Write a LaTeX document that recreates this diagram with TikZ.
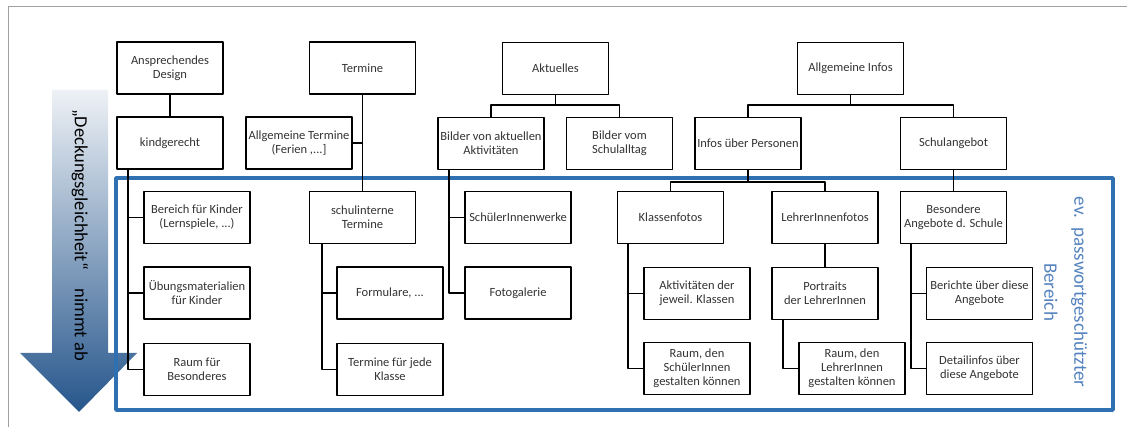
\documentclass[tikz,border=0pt]{standalone}
\usepackage{fontspec}
\setmainfont{Carlito}
\definecolor{frameblue}{RGB}{46,112,178}
\definecolor{labelblue}{RGB}{84,130,190}
\definecolor{arrowblue}{RGB}{38,86,140}
\definecolor{framegray}{RGB}{160,160,160}
\begin{document}
\begin{tikzpicture}[x=1pt,y=-1pt,line join=round,
	box/.style={draw,line width=1.5pt,minimum width=106pt,minimum height=52pt,inner sep=1pt,
		align=center,font=\fontsize{12.5}{14}\selectfont,text=black!80},
	link/.style={line width=1.5pt}]
	\useasboundingbox (0,0) rectangle (1127,427);
	\draw[framegray,line width=1pt] (8,427)--(8,7)--(1127,7);
	% arrow on the left
	\shade[top color=white!92!arrowblue,bottom color=arrowblue]
	(52,90)--(108,90)--(108,353)--(137,353)--(79,412)--(20,353)--(52,353)--cycle;
	\node[rotate=-90,font=\fontsize{18.5}{20}\selectfont] (trend) at (80,235) {„Deckungsgleichheit“\quad nimmt ab};
	% protected area
	\draw[frameblue,line width=3.5pt] (116,178) rectangle (1113,410);
	\node[rotate=-90,labelblue,align=center,font=\fontsize{19}{30}\selectfont] (zone) at (1066,292)
	{ev.\enspace passwortgeschützter\\Bereich};
	% top row
	\node[box] (design) at (170,68) {Ansprechendes\\Design};
	\node[box] (termine) at (362.5,68) {Termine};
	\node[box] (aktuelles) at (555.5,68.5) {Aktuelles};
	\node[box] (infos) at (850.5,68.5) {Allgemeine Infos};
	% second row
	\node[box] (kind) at (170,143) {kindgerecht};
	\node[box] (allgterm) at (299,143) {Allgemeine Termine\\(Ferien ,...]};
	\node[box] (bilderakt) at (491,143.5) {Bilder von aktuellen\\Aktivitäten};
	\node[box] (alltag) at (619.5,143.5) {Bilder vom\\Schulalltag};
	\node[box] (personen) at (748,143.5) {Infos über Personen};
	\node[box] (angebot) at (953.5,143.5) {Schulangebot};
	% third row
	\node[box] (bereich) at (197,217.5) {Bereich für Kinder\\(Lernspiele, ...)};
	\node[box] (schulint) at (362.5,217.5) {schulinterne\\Termine};
	\node[box] (werke) at (518,217.5) {SchülerInnenwerke};
	\node[box] (klassen) at (670.5,217.5) {Klassenfotos};
	\node[box] (lehrer) at (825,217.5) {LehrerInnenfotos};
	\node[box] (besondere) at (953.5,217.5) {Besondere\\Angebote d. Schule};
	% fourth row
	\node[box] (uebung) at (197,293) {Übungsmaterialien\\für Kinder};
	\node[box] (formulare) at (390,293) {Formulare, ...};
	\node[box] (galerie) at (518,293) {Fotogalerie};
	\node[box] (aktiv) at (697,293.5) {Aktivitäten der\\jeweil. Klassen};
	\node[box] (portraits) at (825,293.5) {Portraits\\der LehrerInnen};
	\node[box] (berichte) at (979.5,293.5) {Berichte über diese\\Angebote};
	% fifth row
	\node[box] (raum) at (197,369.5) {Raum für\\Besonderes};
	\node[box] (jede) at (390,369.5) {Termine für jede\\Klasse};
	\node[box] (raumsch) at (697,368.5) {Raum, den\\SchülerInnen\\gestalten können};
	\node[box] (raumleh) at (852,368.5) {Raum, den\\LehrerInnen\\gestalten können};
	\node[box] (detail) at (979.5,368.5) {Detailinfos über\\diese Angebote};
	% connectors
	\path ([xshift=-42pt]kind.south) coordinate (kt)
	([xshift=-40.5pt]schulint.south) coordinate (st)
	([xshift=-42pt]bilderakt.south) coordinate (bt)
	([xshift=-42.5pt]klassen.south) coordinate (klt)
	([xshift=-42pt]portraits.south) coordinate (pt)
	([xshift=-42.5pt]besondere.south) coordinate (bst);
	\draw[link] (design)--(kind) (termine)--(schulint) (allgterm)--(allgterm-|termine)
	(lehrer)--(portraits) (angebot)--(besondere);
	\draw[link] (aktuelles.south)--++(0,10)coordinate(af) (af)-|(bilderakt) (af)-|(alltag);
	\draw[link] (infos.south)--++(0,10)coordinate(inf) (inf)-|(personen) (inf)-|(angebot);
	\draw[link] (personen.south)--++(0,12)coordinate(pf) (pf)-|(klassen) (pf)-|(lehrer);
	\foreach \t/\c in {kt/bereich,kt/uebung,kt/raum,st/formulare,st/jede,bt/werke,bt/galerie,
		klt/aktiv,klt/raumsch,pt/raumleh,bst/berichte,bst/detail}
	\draw[link] (\t)|-(\c);
\end{tikzpicture}
\end{document}
